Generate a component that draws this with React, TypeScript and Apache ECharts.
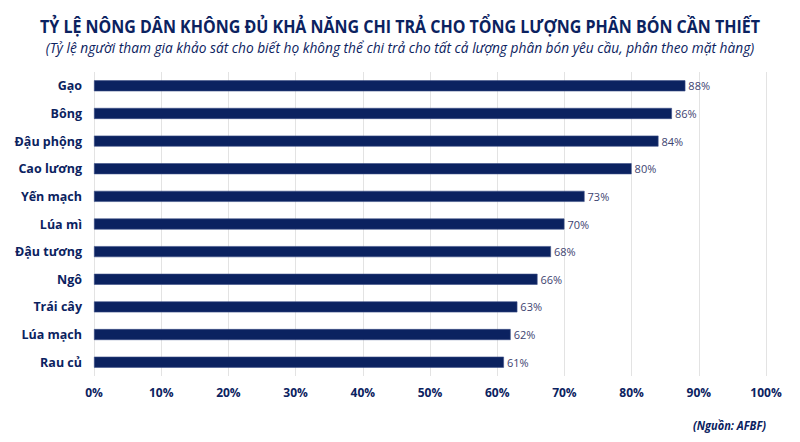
import React, { useEffect, useRef } from "react";
import * as echarts from "echarts";

const categories = [
  "Gạo",
  "Bông",
  "Đậu phộng",
  "Cao lương",
  "Yến mạch",
  "Lúa mì",
  "Đậu tương",
  "Ngô",
  "Trái cây",
  "Lúa mạch",
  "Rau củ",
];
const values = [88, 86, 84, 80, 73, 70, 68, 66, 63, 62, 61];

const titleText = "TỶ LỆ NÔNG DÂN KHÔNG ĐỦ KHẢ NĂNG CHI TRẢ CHO TỔNG LƯỢNG PHÂN BÓN CẦN THIẾT";
const subtitleText =
  "(Tỷ lệ người tham gia khảo sát cho biết họ không thể chi trả cho tất cả lượng phân bón yêu cầu, phân theo mặt hàng)";
const sourceText = "(Nguồn: AFBF)";

const NAVY = "#0b2260";
const FONT = "'Open Sans', sans-serif";

const App: React.FC = () => {
  const chartRef = useRef<HTMLDivElement>(null);

  useEffect(() => {
    document.body.style.margin = "0";
    const chart = echarts.init(chartRef.current!, null, { renderer: "svg" });
    chart.setOption({
      animation: false,
      textStyle: { fontFamily: FONT },
      graphic: [
        {
          type: "text",
          x: 400,
          y: 26,
          scaleX: 0.89,
          style: {
            text: titleText,
            fill: NAVY,
            fontSize: 18,
            fontWeight: "bold",
            fontFamily: FONT,
            align: "center",
            verticalAlign: "middle",
          },
        },
        {
          type: "text",
          x: 400,
          y: 47,
          scaleX: 0.98,
          style: {
            text: subtitleText,
            fill: NAVY,
            fontSize: 14,
            fontStyle: "italic",
            fontFamily: FONT,
            align: "center",
            verticalAlign: "middle",
          },
        },
        {
          type: "text",
          x: 766,
          y: 425,
          scaleX: 0.92,
          style: {
            text: sourceText,
            fill: NAVY,
            fontSize: 12,
            fontStyle: "italic",
            fontWeight: "bold",
            fontFamily: FONT,
            align: "right",
            verticalAlign: "middle",
          },
        },
      ],
      grid: { left: 94, right: 34, top: 72, height: 304, containLabel: false },
      xAxis: {
        type: "value",
        min: 0,
        max: 100,
        interval: 10,
        axisLine: { show: false },
        axisTick: { show: false },
        splitLine: { show: true, lineStyle: { color: "#e3e3e3", width: 1 } },
        axisLabel: {
          formatter: "{value}%",
          color: NAVY,
          fontWeight: "bold",
          fontSize: 12,
          margin: 10,
          fontFamily: FONT,
        },
      },
      yAxis: {
        type: "category",
        data: categories,
        inverse: true,
        axisLine: { show: false },
        axisTick: { show: false },
        axisLabel: {
          color: NAVY,
          fontWeight: "bold",
          fontSize: 12.5,
          margin: 12,
          fontFamily: FONT,
        },
      },
      series: [
        {
          type: "bar",
          data: values,
          barWidth: 11,
          itemStyle: { color: NAVY, borderColor: "#3c4f86", borderWidth: 0.6 },
          label: {
            show: true,
            position: "right",
            distance: 3,
            formatter: "{c}%",
            color: "#3d4370",
            fontSize: 11,
            fontFamily: FONT,
          },
        },
      ],
    });
    return () => {
      chart.dispose();
    };
  }, []);

  return <div ref={chartRef} style={{ width: "800px", height: "442px" }} />;
};

export default App;
